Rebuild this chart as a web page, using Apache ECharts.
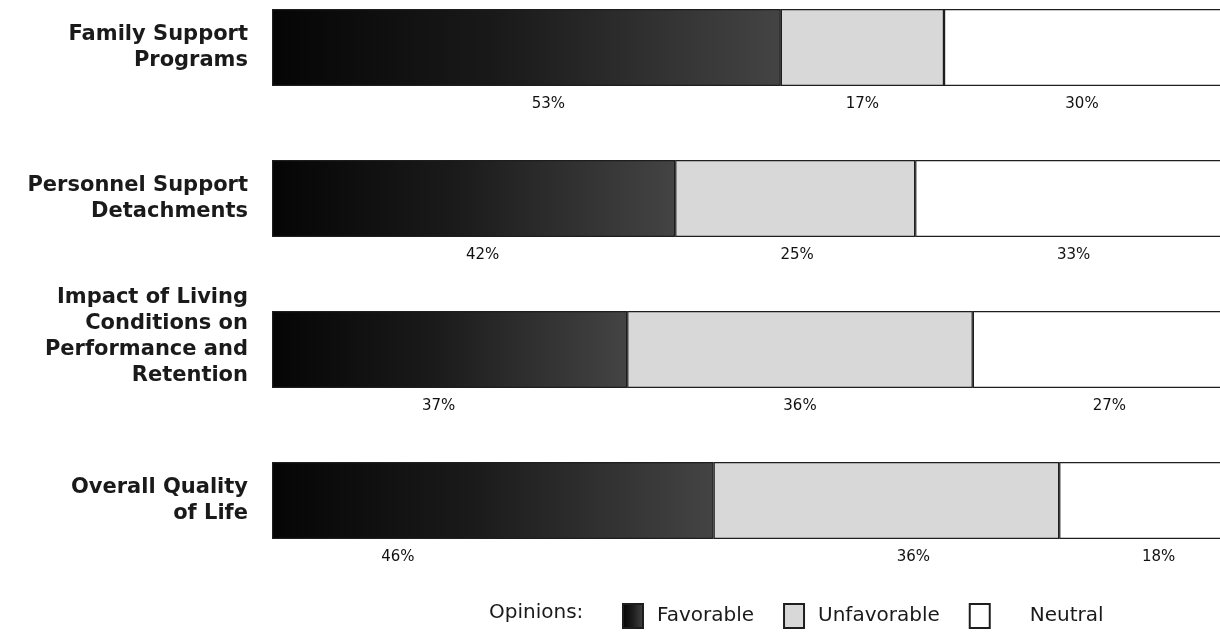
<!DOCTYPE html>
<html>
<head>
<meta charset="utf-8">
<script src="https://cdn.jsdelivr.net/npm/echarts@6/dist/echarts.min.js"></script>
<style>
  html, body { margin: 0; padding: 0; background: #fff; overflow: hidden; }
  /* the original plot is cropped at the top and right edges */
  #chart { position: relative; top: -28px; width: 1232px; height: 660px; }
</style>
</head>
<body>
<div id="chart"></div>
<script>
// survey topics, top to bottom
const categories = [
  'Family Support\nPrograms',
  'Personnel Support\nDetachments',
  'Impact of Living\nConditions on\nPerformance and\nRetention\n',
  'Overall Quality\nof Life'
]
const favorable = [53, 42, 37, 46]
const unfavorable = [17, 25, 36, 36]
const neutral = [30, 33, 27, 18]

const font = 'DejaVu Sans'
const edge = '#1e1e1e'

// a few labels sit off-centre in the original
const labelShift = {
  Favorable: [22, 9, -11, -95],
  Unfavorable: [0, 2, 0, 27],
  Neutral: [-6, 0, 7, 13]
}

function makeSeries(name, values, fill, borderColor) {
  return {
    name: name,
    type: 'bar',
    stack: 'opinions',
    barWidth: 77,
    itemStyle: {
      color: fill,
      borderColor: borderColor,
      borderWidth: 1.2
    },
    label: {
      show: true,
      position: 'bottom',
      distance: 11,
      fontFamily: font,
      fontSize: 15,
      color: '#111',
      formatter: '{c}%'
    },
    data: values.map((v, i) => ({
      value: v,
      label: { offset: [labelShift[name][i], 0] }
    })),
    animation: false
  }
}

const chart = echarts.init(document.getElementById('chart'))

const legendText = { fontFamily: font, fontSize: 20, color: '#1a1a1a' }

chart.setOption({
  backgroundColor: '#fff',
  title: {
    text: 'Opinions:',
    left: 484,
    top: 626,
    textStyle: {
      fontFamily: font,
      fontSize: 20,
      fontWeight: 'normal',
      color: '#1a1a1a'
    }
  },
  legend: {
    left: 617,
    top: 626,
    itemWidth: 20,
    itemHeight: 24,
    itemGap: 29,
    icon: 'rect',
    textStyle: Object.assign({ padding: [0, 0, 0, 9] }, legendText),
    data: [
      { name: 'Favorable' },
      { name: 'Unfavorable' },
      { name: 'Neutral', textStyle: Object.assign({ padding: [0, 0, 0, 35] }, legendText) }
    ]
  },
  grid: {
    left: 272,
    right: 0,
    top: 0,
    bottom: 56
  },
  xAxis: {
    type: 'value',
    min: 0,
    max: 100,
    show: false
  },
  yAxis: {
    type: 'category',
    inverse: true,
    data: categories,
    axisLine: { show: false },
    axisTick: { show: false },
    axisLabel: {
      margin: 24,
      fontFamily: font,
      fontSize: 21,
      fontWeight: 'bold',
      lineHeight: 26,
      color: '#1a1a1a',
      align: 'right'
    }
  },
  series: [
    makeSeries('Favorable', favorable, {
      type: 'linear', x: 0, y: 0, x2: 1, y2: 0,
      colorStops: [
        { offset: 0, color: '#050505' },
        { offset: 0.45, color: '#1a1a1a' },
        { offset: 1, color: '#444' }
      ]
    }, edge),
    makeSeries('Unfavorable', unfavorable, '#d8d8d8', edge),
    makeSeries('Neutral', neutral, '#ffffff', edge)
  ]
})
</script>
</body>
</html>
